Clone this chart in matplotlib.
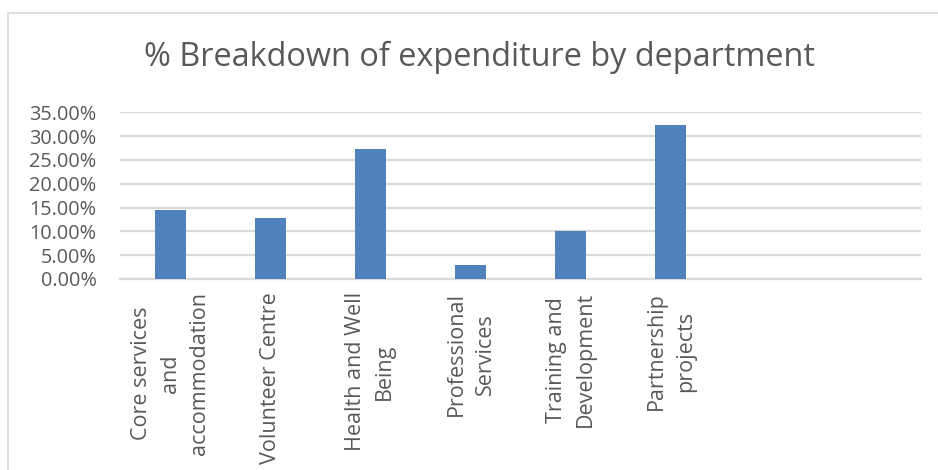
import matplotlib.pyplot as plt
from matplotlib.patches import Rectangle
from matplotlib.ticker import FuncFormatter

plt.rcParams['font.family'] = ['Open Sans', 'DejaVu Sans']

departments = ["Core services\nand\naccommodation", "Volunteer Centre",
               "Health and Well\nBeing", "Professional\nServices",
               "Training and\nDevelopment", "Partnership\nprojects", "", ""]
share = [0.145, 0.128, 0.272, 0.029, 0.100, 0.323, None, None]
yticks = [0.0, 0.05, 0.10, 0.15, 0.20, 0.25, 0.30, 0.35]

text_col = '#595959'
grid_col = '#d9d9d9'
bar_col = '#4f81bd'

fig = plt.figure(figsize=(9.38, 4.7), dpi=100)
ax = fig.add_axes([120/938, 1 - 279/470, 801/938, (279 - 112.3)/470])

# outer chart frame
fig.patches.append(Rectangle((8/938, -0.1), 1.2, 1.1 - 13/470, transform=fig.transFigure,
                             fill=False, edgecolor=grid_col, linewidth=1.2))

xs = list(range(len(departments)))
vals = [v if v is not None else 0 for v in share]
bars = ax.bar(xs, vals, width=0.31, color=bar_col, zorder=3)

ax.set_xlim(-0.5, len(departments) - 0.5)
ax.set_ylim(0, 0.35)
ax.set_yticks(yticks)
ax.yaxis.set_major_formatter(FuncFormatter(lambda v, p: "%.2f%%" % (v * 100)))
ax.grid(axis='y', color=grid_col, linewidth=1.6, zorder=0)
ax.set_axisbelow(True)

for s in ['top', 'right', 'left']:
    ax.spines[s].set_visible(False)
ax.spines['bottom'].set_color(grid_col)
ax.spines['bottom'].set_linewidth(1.6)

ax.tick_params(axis='y', length=0, pad=17, labelsize=14.3, labelcolor=text_col)
ax.tick_params(axis='x', length=0, pad=9.5)
ax.set_xticks(xs)
ax.set_xticklabels(departments, rotation=90, fontsize=15.5, color=text_col,
                   ha='center', va='top', multialignment='center', linespacing=1.5)

fig.text(479/938, 1 - 57/470, "% Breakdown of expenditure by department",
         ha='center', va='center', fontsize=23.4, color=text_col)

fig.savefig('out.png', dpi=100)
